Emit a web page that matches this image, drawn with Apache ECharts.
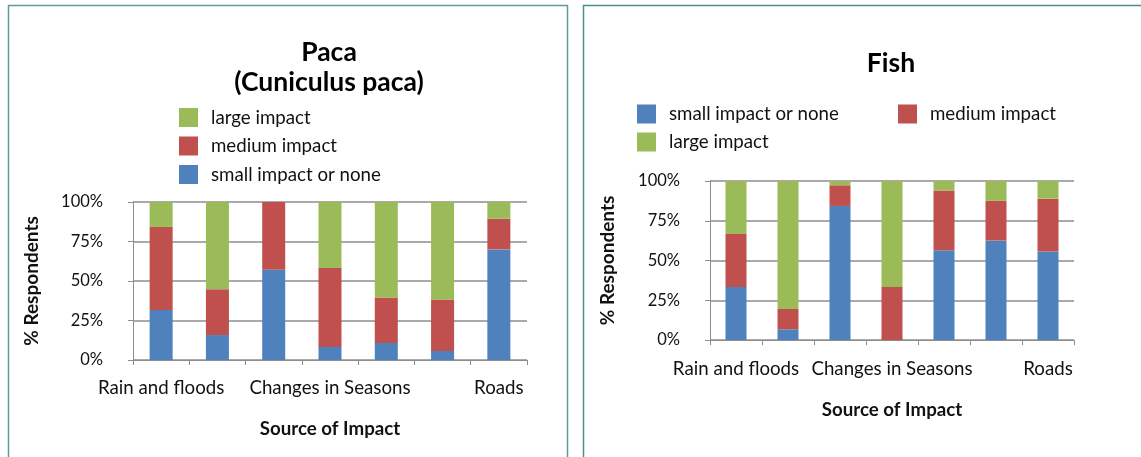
<!DOCTYPE html>
<html>
<head>
<meta charset="utf-8">
<script src="https://cdn.jsdelivr.net/npm/echarts@6/dist/echarts.min.js"></script>
<style>
  html, body { margin: 0; padding: 0; background: #ffffff; }
  #chart { width: 1141px; height: 457px; }
</style>
</head>
<body>
<div id="chart"></div>
<script>
// Category axis: only every third source label is printed on the axis.
const categories = ['Rain and floods', '', '', 'Changes in Seasons', '', '', 'Roads'];
const yTickLabels = ['0%', '25%', '50%', '75%', '100%'];
const seriesNames = ['small impact or none', 'medium impact', 'large impact'];

// Paca (Cuniculus paca): share of respondents, %
const pacaSmall  = [31.6, 15.8, 57.1,  8.3, 10.8,  5.7, 70.0];
const pacaMedium = [52.6, 28.9, 42.9, 50.0, 28.7, 32.6, 19.4];
const pacaLarge  = [15.8, 55.3,  0.0, 41.7, 60.5, 61.7, 10.6];

// Fish: share of respondents, %
const fishSmall  = [33.3,  6.7, 84.3,  0.0, 56.5, 62.5, 55.6];
const fishMedium = [33.4, 12.8, 13.0, 33.3, 37.6, 25.0, 33.3];
const fishLarge  = [33.3, 80.5,  2.7, 66.7,  5.9, 12.5, 11.1];

const COLORS = { small: '#4F81BD', medium: '#C0504D', large: '#9BBB59' };
const FONT = 'Lato, "Open Sans", sans-serif';
const GRID_GRAY = '#8e8e8e';
const TEXT = '#111111';
const BODY_SIZE = 18.7;

function xAxisFor(gridIndex, nameGap, labelMargin) {
  return {
    type: 'category',
    gridIndex,
    data: categories,
    boundaryGap: true,
    axisLine: { show: true, lineStyle: { color: GRID_GRAY, width: 1 } },
    axisTick: { show: true, interval: 0, length: 5, lineStyle: { color: GRID_GRAY } },
    axisLabel: { interval: 0, margin: labelMargin, fontSize: BODY_SIZE, color: TEXT, fontFamily: FONT },
    name: 'Source of Impact',
    nameLocation: 'middle',
    nameGap,
    nameTextStyle: { fontSize: BODY_SIZE, fontWeight: 'bold', color: TEXT, fontFamily: FONT }
  };
}

function yAxisFor(gridIndex, nameGap) {
  return {
    type: 'value',
    gridIndex,
    min: 0,
    max: 100,
    interval: 25,
    axisLine: { show: true, lineStyle: { color: GRID_GRAY, width: 1 } },
    axisTick: { show: true, length: 5, lineStyle: { color: GRID_GRAY } },
    splitLine: { show: true, lineStyle: { color: GRID_GRAY, width: 1.5 } },
    axisLabel: {
      margin: 30, fontSize: 16.5, color: TEXT, fontFamily: FONT,
      formatter: (v) => yTickLabels[Math.round(v / 25)]
    },
    name: '% Respondents',
    nameLocation: 'middle',
    nameRotate: 90,
    nameGap,
    nameTextStyle: { fontSize: 19, fontWeight: 'bold', color: TEXT, fontFamily: FONT }
  };
}

function barSeries(name, data, color, stack, axisIndex, barWidth) {
  return {
    type: 'bar', name, data, stack, barWidth,
    xAxisIndex: axisIndex, yAxisIndex: axisIndex,
    itemStyle: { color },
    emphasis: { disabled: true }
  };
}

function legendAt(left, top, names) {
  return {
    left, top, orient: 'vertical',
    padding: 0, itemGap: 9.5, itemWidth: 19, itemHeight: 19,
    icon: 'rect', data: names, selectedMode: false,
    textStyle: { fontSize: BODY_SIZE, color: TEXT, fontFamily: FONT, padding: [0, 0, 0, 8] }
  };
}

const option = {
  animation: false,
  backgroundColor: '#ffffff',
  title: [
    {
      text: 'Paca\n(Cuniculus paca)', left: 329, top: 37, padding: 0,
      textAlign: 'center',
      textStyle: { fontSize: 26.5, fontWeight: 'bold', color: '#000', fontFamily: FONT, lineHeight: 30 }
    },
    {
      text: 'Fish', left: 891, top: 48, padding: 0,
      textAlign: 'center',
      textStyle: { fontSize: 26.5, fontWeight: 'bold', color: '#000', fontFamily: FONT, lineHeight: 30 }
    }
  ],
  legend: [
    legendAt(179, 108, ['large impact', 'medium impact', 'small impact or none']),
    legendAt(637, 104.5, ['small impact or none']),
    legendAt(898, 104.5, ['medium impact']),
    legendAt(637, 132.5, ['large impact'])
  ],
  grid: [
    { left: 133, right: 614, top: 202, bottom: 97 },
    { left: 710, right: 67, top: 181, bottom: 117 }
  ],
  xAxis: [xAxisFor(0, 59, 18), xAxisFor(1, 60, 19)],
  yAxis: [yAxisFor(0, 92), yAxisFor(1, 93)],
  series: [
    barSeries(seriesNames[0], pacaSmall,  COLORS.small,  'paca', 0, 23),
    barSeries(seriesNames[1], pacaMedium, COLORS.medium, 'paca', 0, 23),
    barSeries(seriesNames[2], pacaLarge,  COLORS.large,  'paca', 0, 23),
    barSeries(seriesNames[0], fishSmall,  COLORS.small,  'fish', 1, 21),
    barSeries(seriesNames[1], fishMedium, COLORS.medium, 'fish', 1, 21),
    barSeries(seriesNames[2], fishLarge,  COLORS.large,  'fish', 1, 21)
  ],
  graphic: [
    // panel frames
    { type: 'rect', silent: true, z: 100,
      shape: { x: 8.5, y: 5.5, width: 559, height: 520 },
      style: { fill: null, stroke: '#5a9f98', lineWidth: 1.5 } },
    { type: 'rect', silent: true, z: 100,
      shape: { x: 583.5, y: 5.5, width: 620, height: 520 },
      style: { fill: null, stroke: '#4a9088', lineWidth: 1.5 } }
  ]
};

const chart = echarts.init(document.getElementById('chart'), null, { renderer: 'canvas' });
chart.setOption(option);
</script>
</body>
</html>
